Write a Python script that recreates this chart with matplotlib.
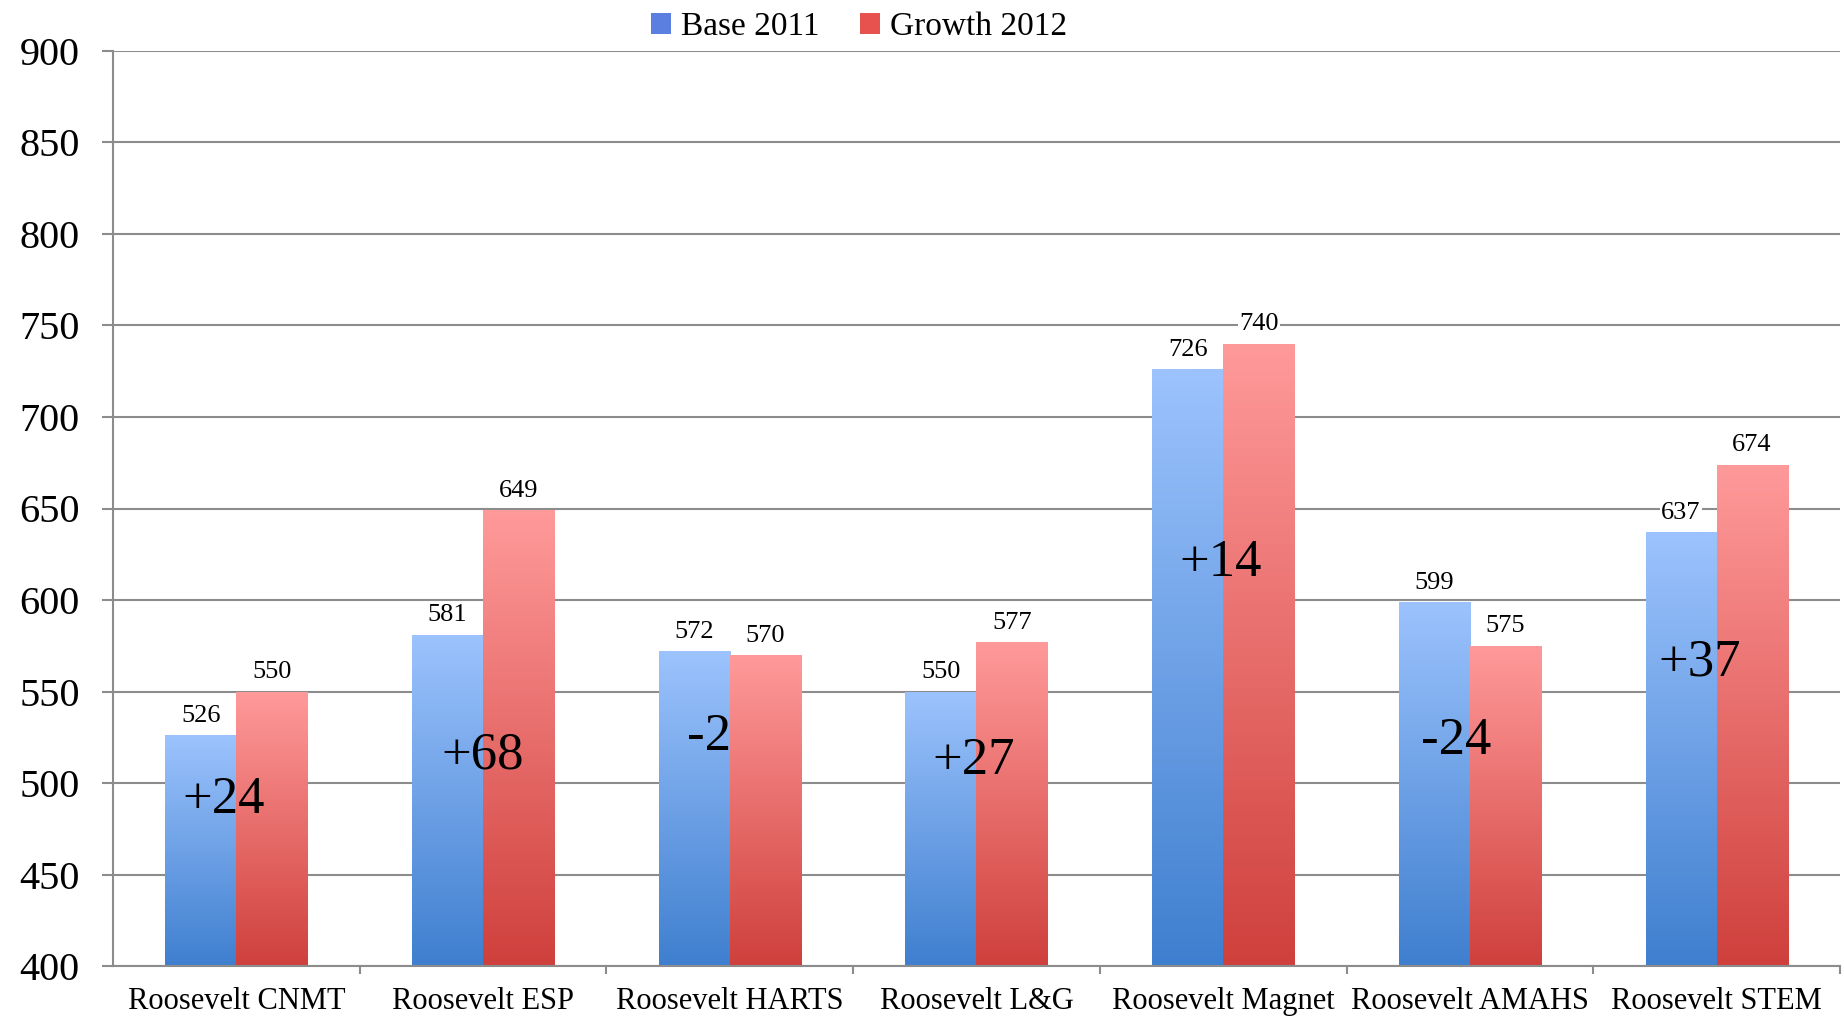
import numpy as np
import matplotlib
matplotlib.use("Agg")
import matplotlib.pyplot as plt
from matplotlib.colors import LinearSegmentedColormap
from matplotlib.patches import Patch

categories = ["Roosevelt CNMT", "Roosevelt ESP", "Roosevelt HARTS", "Roosevelt L&G",
              "Roosevelt Magnet", "Roosevelt AMAHS", "Roosevelt STEM"]
base_2011 = [526, 581, 572, 550, 726, 599, 637]
growth_2012 = [550, 649, 570, 577, 740, 575, 674]
change_labels = ["+24", "+68", "-2", "+27", "+14", "-24", "+37"]
change_label_y = [491, 515, 525, 512, 620, 523, 566]
change_label_dx = [-0.05, 0.0, -0.086, -0.01, -0.01, -0.057, -0.07]
y_ticks = [400, 450, 500, 550, 600, 650, 700, 750, 800, 850, 900]
series_names = ["Base 2011", "Growth 2012"]

FONT = ["Liberation Serif", "DejaVu Serif"]
plt.rcParams["font.family"] = FONT

fig = plt.figure(figsize=(18.44, 10.17), dpi=100)
ax = fig.add_axes([0.0613, 0.0501, 0.9365, 0.8998])

blue_cmap = LinearSegmentedColormap.from_list("b", ["#3f7fcf", "#9cc3fd"])
red_cmap = LinearSegmentedColormap.from_list("r", ["#cf403c", "#ff9a9a"])
grad = np.linspace(0, 1, 256).reshape(-1, 1)

w = 0.288
ymin = 400
x = np.arange(len(categories))

def gradient_bars(xs, vals, cmap):
    bars = ax.bar(xs, np.array(vals) - ymin, bottom=ymin, width=w,
                  color="none", edgecolor="none", zorder=2)
    for b, v in zip(bars, vals):
        x0 = b.get_x()
        im = ax.imshow(grad, cmap=cmap, aspect="auto", origin="lower",
                       extent=[x0, x0 + w, ymin, v], zorder=2,
                       interpolation="bilinear")
        im.set_clip_path(b)
    return bars

gradient_bars(x - w / 2, base_2011, blue_cmap)
gradient_bars(x + w / 2, growth_2012, red_cmap)

for xs, vals in ((x - w / 2, base_2011), (x + w / 2, growth_2012)):
    for xi, v in zip(xs, vals):
        ax.annotate(str(v), (xi, v), xytext=(0, 6), textcoords="offset points",
                    ha="center", va="bottom", fontsize=19, zorder=4,
                    bbox=dict(facecolor="white", edgecolor="none", pad=1))

for xi, lab, ly, dx in zip(x, change_labels, change_label_y, change_label_dx):
    ax.text(xi + dx, ly, lab, ha="center", va="center", fontsize=38, zorder=5)

ax.set_xlim(-0.5, len(categories) - 0.5)
ax.set_ylim(400, 900)
ax.set_yticks(y_ticks)
ax.set_yticklabels([str(t) for t in y_ticks], fontsize=29)
ax.set_xticks(x)
ax.set_xticklabels(categories, fontsize=22)
ax.set_xticks(np.arange(len(categories)) + 0.5, minor=True)
ax.tick_params(axis="x", which="major", length=0, pad=15)
ax.tick_params(axis="x", which="minor", length=6, width=1.5, color="#8c8c8c", direction="out")
ax.tick_params(axis="y", which="major", length=8, width=1.5, color="#8c8c8c",
               direction="out", pad=16)

ax.yaxis.grid(True, color="#8c8c8c", linewidth=1.5, zorder=0)
ax.set_axisbelow(True)
for s in ["top", "right"]:
    ax.spines[s].set_visible(False)
for s in ["left", "bottom"]:
    ax.spines[s].set_color("#8c8c8c")
    ax.spines[s].set_linewidth(1.5)

handles = [Patch(facecolor="#5b7fe0", edgecolor="none"),
           Patch(facecolor="#e8524e", edgecolor="none")]
fig.legend(handles, series_names, loc="upper center", bbox_to_anchor=(0.466, 1.018),
           ncol=2, frameon=False, fontsize=24, handlelength=0.6, handleheight=0.6,
           handletextpad=0.3, columnspacing=1.2)

fig.savefig("out.png", dpi=100)
